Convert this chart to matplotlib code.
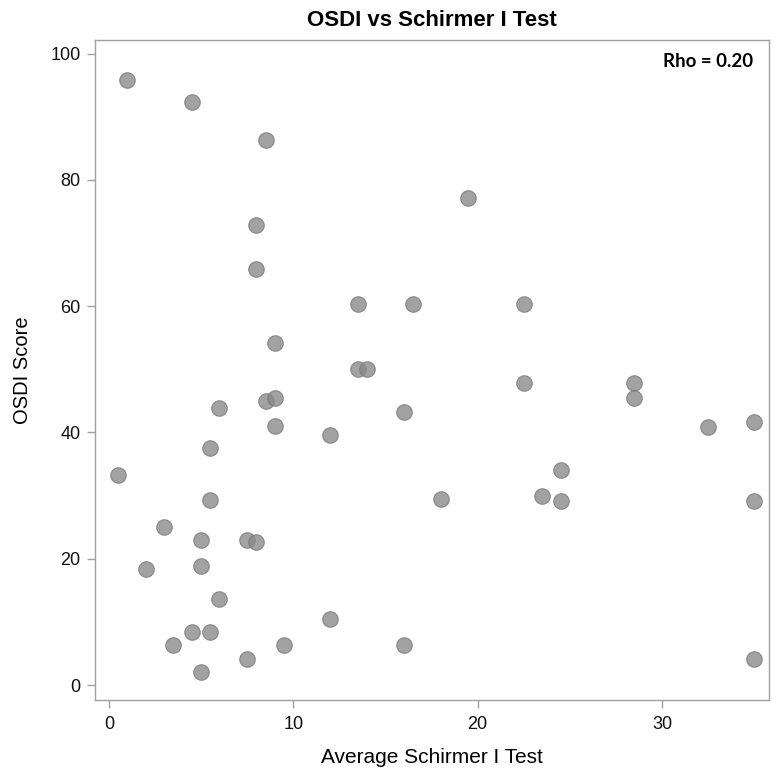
import numpy as np
import matplotlib
matplotlib.use('Agg')
import matplotlib.pyplot as plt

# values
schirmer = [1.0, 4.5, 8.5, 19.5, 8.0, 8.0, 13.5, 16.5, 22.5, 9.0,
            13.5, 14.0, 22.5, 28.5, 28.5, 8.5, 9.0, 6.0, 16.0, 35.0,
            32.5, 9.0, 12.0, 5.5, 24.5, 0.5, 23.5, 18.0, 24.5, 35.0,
            5.5, 3.0, 5.0, 7.5, 8.0, 5.0, 2.0, 6.0, 12.0, 4.5,
            5.5, 3.5, 9.5, 16.0, 7.5, 35.0, 5.0]
osdi = [95.8, 92.4, 86.3, 77.1, 72.8, 65.9, 60.4, 60.4, 60.4, 54.2,
        50.0, 50.0, 47.9, 47.9, 45.5, 45.0, 45.5, 43.8, 43.2, 41.7,
        40.9, 41.0, 39.6, 37.5, 34.0, 33.3, 29.9, 29.5, 29.2, 29.2,
        29.3, 25.0, 22.9, 22.9, 22.7, 18.8, 18.3, 13.7, 10.4, 8.4,
        8.4, 6.3, 6.3, 6.3, 4.2, 4.1, 2.0]
x_ticks = [0, 10, 20, 30]
y_ticks = [0, 20, 40, 60, 80, 100]
rho_text = 'Rho = 0.20'

plt.rcParams['font.family'] = ['Liberation Sans', 'DejaVu Sans']

fig = plt.figure(figsize=(7.79, 7.78), dpi=100)
ax = fig.add_axes([0.122, 0.100, 0.865, 0.849])

ax.scatter(schirmer, osdi, s=125, facecolor='#888888', edgecolor='#777777',
           linewidth=0.8, alpha=0.78, zorder=3)

ax.set_xlim(-0.75, 35.8)
ax.set_ylim(-2.4, 102.2)
ax.set_xticks(x_ticks)
ax.set_yticks(y_ticks)

for s in ax.spines.values():
    s.set_color('#a0a0a0')
    s.set_linewidth(1.0)
ax.tick_params(direction='out', length=5.5, width=1, color='#a0a0a0',
               labelsize=13, labelcolor='#111111')
ax.tick_params(axis='x', pad=6)
ax.tick_params(axis='y', pad=5)

ax.set_title('OSDI vs Schirmer I Test', fontsize=16, fontweight='bold', pad=10)
ax.set_xlabel('Average Schirmer I Test', fontsize=15, labelpad=11)
ax.set_ylabel('OSDI Score', fontsize=14.5, labelpad=13)

ax.text(0.976, 0.967, rho_text, transform=ax.transAxes, ha='right', va='center',
        fontsize=13.5, fontweight='bold', family=['Lato', 'DejaVu Sans'])

fig.savefig('out.png', dpi=100)
